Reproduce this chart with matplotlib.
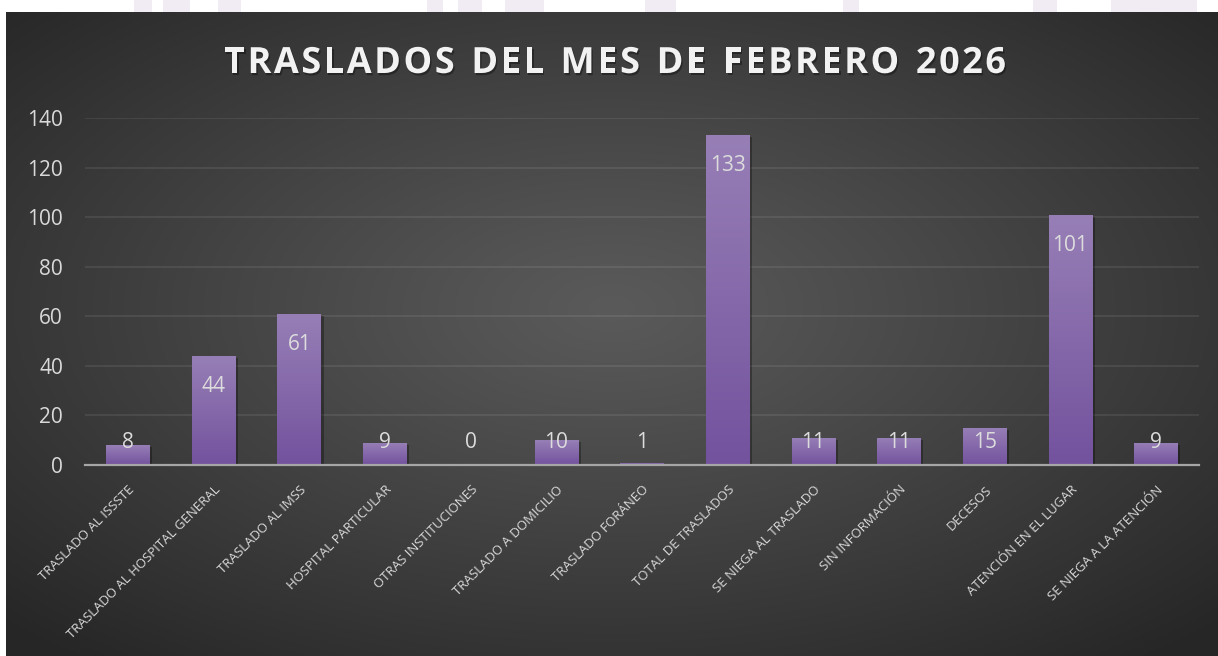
import numpy as np
import matplotlib
matplotlib.use("Agg")
import matplotlib.pyplot as plt
import matplotlib.patheffects as pe
from matplotlib.colors import LinearSegmentedColormap
from matplotlib.patches import Rectangle

categories = ["TRASLADO AL ISSSTE", "TRASLADO AL HOSPITAL GENERAL", "TRASLADO AL IMSS",
              "HOSPITAL PARTICULAR", "OTRAS INSTITUCIONES", "TRASLADO A DOMICILIO",
              "TRASLADO FORÁNEO", "TOTAL DE TRASLADOS", "SE NIEGA AL TRASLADO",
              "SIN INFORMACIÓN", "DECESOS", "ATENCIÓN EN EL LUGAR", "SE NIEGA A LA ATENCIÓN"]
values = [8, 44, 61, 9, 0, 10, 1, 133, 11, 11, 15, 101, 9]
y_ticks = [0, 20, 40, 60, 80, 100, 120, 140]
title = "TRASLADOS DEL MES DE FEBRERO 2026"

FONT = "Open Sans"
W, H = 1218, 656
fig = plt.figure(figsize=(W / 100, H / 100), dpi=100)
fig.patch.set_facecolor("white")

# faint watermark fragments in the top white strip
for x0, x1 in [(134, 152), (163, 190), (218, 241), (427, 443), (458, 482), (505, 544),
               (645, 676), (843, 859), (1033, 1057), (1111, 1197)]:
    fig.patches.append(Rectangle((x0 / W, 1 - 12 / H), (x1 - x0) / W, 12 / H,
                                 transform=fig.transFigure, facecolor="#f1ecf4",
                                 edgecolor="none", zorder=-20))

# dark radial-gradient panel
bg = fig.add_axes([6 / W, 0, (W - 6) / W, (H - 12) / H], zorder=-10)
bg.set_axis_off()
pw, ph = W - 6, H - 12
xx, yy = np.meshgrid(np.linspace(-1, 1, pw), np.linspace(-1, 1, ph))
yy = yy + 0.08
r = np.clip(np.sqrt(xx ** 2 + yy ** 2) / np.sqrt(2), 0, 1)
c_center = np.array([0x5a, 0x5a, 0x5a]) / 255
c_edge = np.array([0x26, 0x26, 0x26]) / 255
img = c_center[None, None, :] + (c_edge - c_center)[None, None, :] * (r ** 1.1)[:, :, None]
bg.imshow(img, aspect="auto", extent=[0, 1, 0, 1], interpolation="bilinear")
bg.set_xlim(0, 1)
bg.set_ylim(0, 1)

# plotting axes
ax = fig.add_axes([85.3 / W, 1 - 465 / H, (1199 - 85.3) / W, (465 - 118) / H])
ax.set_facecolor("none")
x = np.arange(len(categories))
bw = 0.513
bars = ax.bar(x, values, width=bw, color="#8264aa", zorder=2,
              path_effects=[pe.SimplePatchShadow(offset=(1.5, -1.5), shadow_rgbFace="black", alpha=0.3),
                            pe.Normal()])
cmap = LinearSegmentedColormap.from_list("bar", ["#73529e", "#977fb6"])
grad = np.linspace(0, 1, 256).reshape(-1, 1)
for b, v in zip(bars, values):
    if v <= 0:
        continue
    im = ax.imshow(grad, extent=[b.get_x(), b.get_x() + b.get_width(), 0, v], origin="lower",
                   aspect="auto", cmap=cmap, zorder=2.1, interpolation="bilinear")
    im.set_clip_path(b)

ax.set_xlim(-0.5, len(categories) - 0.5)
ax.set_ylim(0, 140)
ax.set_yticks(y_ticks)
ax.set_yticklabels([str(t) for t in y_ticks], fontsize=15, color="#d9d9d9", family=FONT)
ax.tick_params(axis="y", length=0, pad=16)
ax.set_xticks(x)
ax.set_xticklabels(categories, rotation=45, ha="right", rotation_mode="anchor",
                   fontsize=9.5, color="#d9d9d9", family=FONT)
ax.tick_params(axis="x", length=0, pad=13)
for s in ["top", "right", "left"]:
    ax.spines[s].set_visible(False)
ax.spines["bottom"].set_color("#a6a6a6")
ax.spines["bottom"].set_linewidth(1.6)
ax.spines["bottom"].set_zorder(3)
for t in y_ticks[1:]:
    ax.axhline(t, color="white", alpha=0.1, lw=1.1, zorder=1)

# data labels (inside end)
for xi, v in zip(x, values):
    ax.annotate(str(v), xy=(xi, max(v, 21.4)), xytext=(0, -36 * 0.72), textcoords="offset points",
                ha="center", va="baseline", fontsize=15, color="#dcdcdc", family=FONT, zorder=4)

# title with letter spacing
fig.canvas.draw()
renderer = fig.canvas.get_renderer()
tsize = 26
target_w = 782
probe = [fig.text(0, 0, ch, fontsize=tsize, fontweight="bold", family=FONT) for ch in title]
widths = []
for ch, t in zip(title, probe):
    if ch == " ":
        widths.append(tsize * 0.32 * 100 / 72)
    else:
        widths.append(t.get_window_extent(renderer).width)
    t.remove()
nat = sum(widths)
sp = (target_w - nat) / (len(title) - 1)
cx = 224
for ch, w in zip(title, widths):
    if ch != " ":
        fig.text(cx / W, 1 - 73 / H, ch, fontsize=tsize, fontweight="bold", family=FONT,
                 color="#f2f2f2", va="baseline", ha="left",
                 path_effects=[pe.SimplePatchShadow(offset=(1.0, -1.6), shadow_rgbFace="black", alpha=0.35),
                               pe.Normal()])
    cx += w + sp

fig.savefig("out.png", dpi=100, facecolor=fig.get_facecolor())
